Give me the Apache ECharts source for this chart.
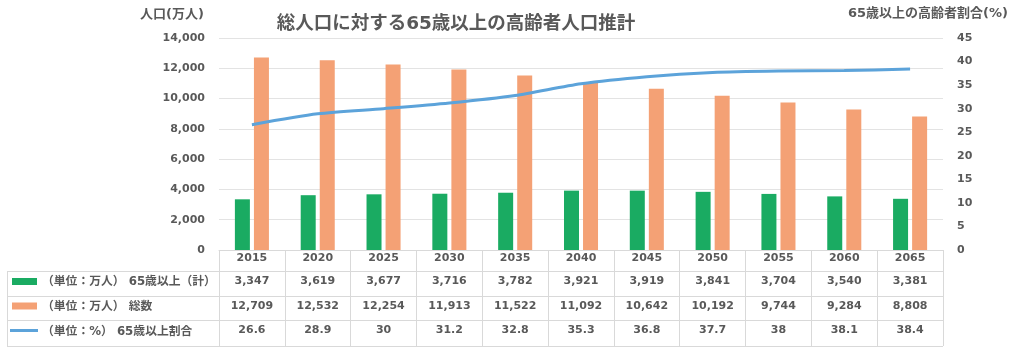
<!DOCTYPE html>
<html><head><meta charset="utf-8">
<script src="https://cdn.jsdelivr.net/npm/echarts@6/dist/echarts.min.js"></script>
<style>html,body{margin:0;padding:0;background:#fff}#c{width:1024px;height:355px}</style>
</head><body><div id="c"></div>
<script>
var years = ['2015','2020','2025','2030','2035','2040','2045','2050','2055','2060','2065'];
var elderly = [3347,3619,3677,3716,3782,3921,3919,3841,3704,3540,3381];
var total = [12709,12532,12254,11913,11522,11092,10642,10192,9744,9284,8808];
var ratio = [26.6,28.9,30,31.2,32.8,35.3,36.8,37.7,38,38.1,38.4];
var rowNames = ['（単位：万人） 65歳以上（計）','（単位：万人） 総数','（単位：%） 65歳以上割合'];
var titleText = '総人口に対する65歳以上の高齢者人口推計';
var leftName = '人口(万人)';
var rightName = '65歳以上の高齢者割合(%)';

var FONT = "'DejaVu Sans','Noto Sans CJK JP',sans-serif";
var TXT = '#595959';
var GREEN = '#1aab62', ORANGE = '#f4a175', BLUE = '#5ca3da', BORDER = '#d9d9d9';
function fmt(v){ return v.toLocaleString('en-US'); }

function tableAxis(data, offset){
  return {type:'category', data:data, position:'bottom', offset:offset,
    axisLine:{show:false}, axisTick:{show:false}, splitLine:{show:false},
    axisLabel:{margin:3, interval:0, color:TXT, fontSize:11, fontWeight:'bold', fontFamily:FONT}};
}

var chart = echarts.init(document.getElementById('c'), null, {renderer:'canvas'});
var option = {
  animation:false,
  backgroundColor:'#fff',
  grid:{left:219, right:81, top:38, bottom:105, containLabel:false},
  title:{text:titleText, left:451, top:10, textAlign:'center',
    textStyle:{color:TXT, fontSize:18.5, fontWeight:'bold', fontFamily:FONT}},
  xAxis:[
    {type:'category', data:years, position:'bottom',
     axisLine:{show:true, lineStyle:{color:BORDER, width:1}},
     axisTick:{show:true, length:96, alignWithLabel:false, lineStyle:{color:BORDER}},
     axisLabel:{margin:3, interval:0, color:TXT, fontSize:11, fontWeight:'bold', fontFamily:FONT}},
    tableAxis(elderly.map(fmt), 23),
    tableAxis(total.map(fmt), 48),
    tableAxis(ratio.map(String), 72)
  ],
  yAxis:[
    {type:'value', min:0, max:14000, interval:2000, position:'left',
     axisLine:{show:false}, axisTick:{show:false},
     splitLine:{show:true, lineStyle:{color:'#e3e3e3', width:1}},
     axisLabel:{margin:14, color:TXT, fontSize:11, fontWeight:'bold', fontFamily:FONT,
       formatter:function(v){return fmt(v);}}},
    {type:'value', min:0, max:45, interval:5, position:'right',
     axisLine:{show:false}, axisTick:{show:false}, splitLine:{show:false},
     axisLabel:{margin:14, color:TXT, fontSize:11, fontWeight:'bold', fontFamily:FONT}}
  ],
  series:[
    {name:rowNames[0], type:'bar', data:elderly, xAxisIndex:0, yAxisIndex:0,
     barWidth:15, barGap:'27%', itemStyle:{color:GREEN}},
    {name:rowNames[1], type:'bar', data:total, xAxisIndex:0, yAxisIndex:0,
     barWidth:15, barGap:'27%', itemStyle:{color:ORANGE}},
    {name:rowNames[2], type:'line', data:ratio, xAxisIndex:0, yAxisIndex:1,
     smooth:0.25, symbol:'none', lineStyle:{color:BLUE, width:3}, z:5}
  ],
  graphic:[]
};

var g = [];
g.push({type:'text', x:204, y:15, style:{text:leftName, align:'right', verticalAlign:'middle',
  fill:TXT, font:'bold 13px '+FONT}});
g.push({type:'text', x:848, y:14, style:{text:rightName, align:'left', verticalAlign:'middle',
  fill:TXT, font:'bold 13px '+FONT}});
[271,296,320,346].forEach(function(y){
  g.push({type:'line', shape:{x1:7,y1:y+0.5,x2:943,y2:y+0.5}, style:{stroke:BORDER, lineWidth:1}});
});
g.push({type:'line', shape:{x1:7.5,y1:271,x2:7.5,y2:346}, style:{stroke:BORDER, lineWidth:1}});
var rowY = [282, 307, 331.5];
g.push({type:'rect', shape:{x:12,y:278,width:25,height:7}, style:{fill:GREEN}});
g.push({type:'rect', shape:{x:12,y:302.5,width:25,height:7}, style:{fill:ORANGE}});
g.push({type:'line', shape:{x1:10,y1:330.5,x2:38,y2:330.5}, style:{stroke:BLUE, lineWidth:3}});
rowNames.forEach(function(n,i){
  g.push({type:'text', x:42, y:rowY[i], style:{text:n, align:'left', verticalAlign:'middle',
    fill:TXT, font:'bold 11.8px '+FONT}});
});
option.graphic = g;
chart.setOption(option);
</script></body></html>
